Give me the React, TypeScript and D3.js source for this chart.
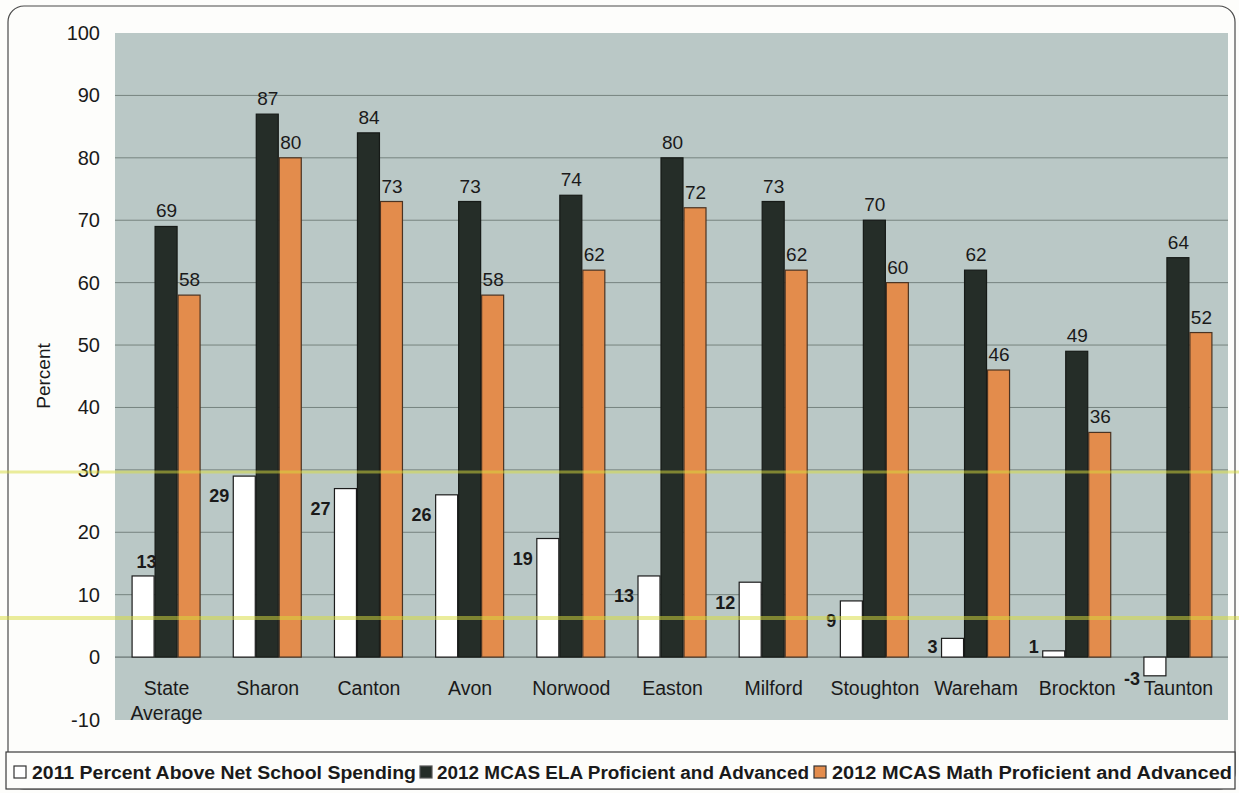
import React from "react";
import * as d3 from "d3";

const categories = ["State|Average", "Sharon", "Canton", "Avon", "Norwood", "Easton", "Milford", "Stoughton", "Wareham", "Brockton", "Taunton"];
const spending2011 = [13, 29, 27, 26, 19, 13, 12, 9, 3, 1, -3];
const ela2012 = [69, 87, 84, 73, 74, 80, 73, 70, 62, 49, 64];
const math2012 = [58, 80, 73, 58, 62, 72, 62, 60, 46, 36, 52];
const yTicks = [-10, 0, 10, 20, 30, 40, 50, 60, 70, 80, 90, 100];
const legendLabels = [
  "2011 Percent Above Net School Spending",
  "2012 MCAS ELA Proficient and Advanced",
  "2012 MCAS Math Proficient and Advanced",
];

const W = 1239;
const H = 793;
const FONT = "'Liberation Sans', Arial, sans-serif";
const colors = ["#ffffff", "#252d28", "#e38c4c"];
const strokes = ["#1c1c1c", "#161a17", "#4a3322"];

export default function App() {
  const x = d3.scaleBand<string>().domain(categories).range([115, 1228]).paddingInner(0).paddingOuter(0);
  const y = d3.scaleLinear().domain([-10, 100]).range([719.5, 33]);
  const barW = 23;
  const y0 = y(0);

  const series = [spending2011, ela2012, math2012];

  const legendPos = [
    { sq: 14, tx: 32, tw: 384 },
    { sq: 420, tx: 437, tw: 372 },
    { sq: 814, tx: 832, tw: 400 },
  ];

  return (
    <svg width={W} height={H} style={{ position: "absolute", left: 0, top: 0, background: "#fff" }}>
      <rect x={0} y={0} width={W} height={H} fill="#fdfdfb" />
      {/* outer frame */}
      <rect x={8} y={6} width={1227} height={783} rx={16} fill="none" stroke="#4a4a4a" strokeWidth={1.2} />
      {/* plot area */}
      <rect x={115} y={33} width={1113} height={687} fill="#bac8c6" />
      {yTicks
        .filter((t) => t >= 0 && t < 100)
        .map((t) => (
          <line key={t} x1={115} x2={1228} y1={y(t)} y2={y(t)} stroke={t === 0 ? "#55605e" : "#76837f"} strokeWidth={1} />
        ))}
      {/* y tick labels */}
      {yTicks.map((t) => (
        <text key={t} x={100} y={y(t)} dy="0.35em" textAnchor="end" fontFamily={FONT} fontSize={20} fill="#1a1a1a">
          {t}
        </text>
      ))}
      <text transform={`translate(43,376) rotate(-90)`} textAnchor="middle" dy="0.35em" fontFamily={FONT} fontSize={19} fill="#1a1a1a">
        Percent
      </text>
      {/* bars */}
      {categories.map((c, i) => {
        const cx = (x(c) as number) + x.bandwidth() / 2 + 1;
        const start = cx - (barW * 3) / 2;
        return (
          <g key={c}>
            {series.map((s, k) => {
              const v = s[i];
              const bx = start + k * barW;
              const top = Math.min(y(v), y0);
              const h = Math.abs(y(v) - y0);
              return <rect key={k} x={bx} y={top} width={barW - 1} height={h} fill={colors[k]} stroke={strokes[k]} strokeWidth={1.2} />;
            })}
            {/* labels for ELA and Math */}
            {[1, 2].map((k) => (
              <text key={k} x={start + k * barW + barW / 2} y={y(series[k][i]) - 9} textAnchor="middle" fontFamily={FONT} fontSize={19} fill="#1a1a1a">
                {series[k][i]}
              </text>
            ))}
            {/* label for 2011 spending */}
            {(() => {
              const v = spending2011[i];
              if (i === 0) {
                return (
                  <text x={start + barW / 2 + 3} y={y(v) - 8} textAnchor="middle" fontFamily={FONT} fontWeight="bold" fontSize={18} fill="#1a1a1a">
                    {v}
                  </text>
                );
              }
              const ly = v < 0 ? y0 + 22 : Math.min(y(v) + 20, y0 - 10);
              return (
                <text x={start - 4} y={ly} dy="0.35em" textAnchor="end" fontFamily={FONT} fontWeight="bold" fontSize={18} fill="#1a1a1a">
                  {v}
                </text>
              );
            })()}
            {/* category label */}
            {c.split("|").map((line, li) => (
              <text key={li} x={cx} y={688 + li * 25} dy="0.35em" textAnchor="middle" fontFamily={FONT} fontSize={19.5} fill="#1a1a1a">
                {line}
              </text>
            ))}
          </g>
        );
      })}
      {/* scan highlighter marks */}
      <line x1={0} x2={W} y1={472} y2={472} stroke="#d9dc3c" strokeWidth={3} opacity={0.5} />
      <line x1={0} x2={W} y1={618} y2={618} stroke="#d9dc3c" strokeWidth={4} opacity={0.5} />
      {/* legend */}
      <rect x={6} y={752} width={1229} height={37} fill="#fdfdfb" stroke="#3a3a3a" strokeWidth={1.2} />
      {legendLabels.map((l, k) => (
        <g key={l}>
          <rect x={legendPos[k].sq} y={766} width={12} height={12} fill={colors[k]} stroke={k === 1 ? "#555" : "#333"} strokeWidth={1.2} />
          <text x={legendPos[k].tx} y={773} dy="0.35em" fontFamily={FONT} fontWeight="bold" fontSize={18} fill="#1a1a1a" textLength={legendPos[k].tw} lengthAdjust="spacingAndGlyphs">
            {l}
          </text>
        </g>
      ))}
    </svg>
  );
}
